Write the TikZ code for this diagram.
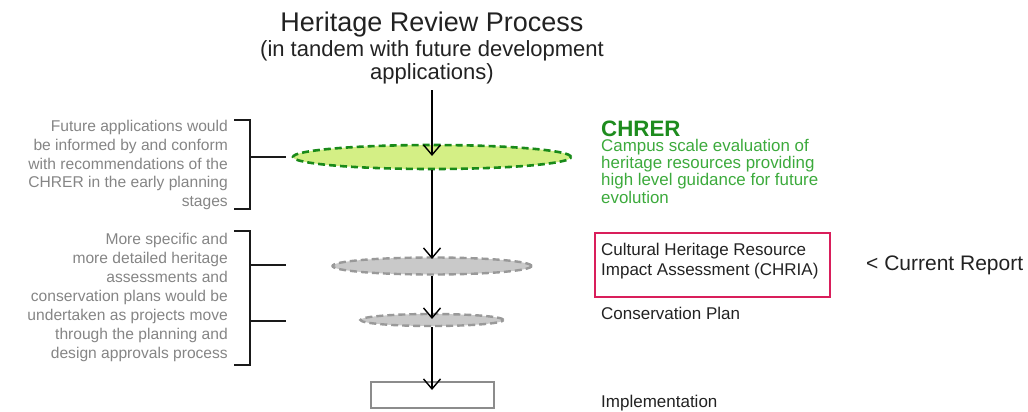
\documentclass[tikz,border=0pt]{standalone}
\usepackage{fontspec}
\setmainfont{Liberation Sans}
\usetikzlibrary{arrows.meta,shapes.geometric}

\definecolor{notegray}{HTML}{858585}
\definecolor{darktext}{HTML}{222222}
\definecolor{chrergreen}{HTML}{1E8C1E}
\definecolor{chrertext}{HTML}{3CAA3C}
\definecolor{chrerfill}{HTML}{D4EF85}
\definecolor{chrerline}{HTML}{198A19}
\definecolor{stagefill}{HTML}{C9C9C9}
\definecolor{stageline}{HTML}{999999}
\definecolor{boxgray}{HTML}{8C8C8C}
\definecolor{reportred}{HTML}{D91E5B}
\definecolor{bracketcol}{HTML}{1A1A1A}

\begin{document}
\begin{tikzpicture}[x=1pt,y=-1pt,
  flow/.style={draw=black, line width=1.4pt,
    -{Straight Barb[length=10pt,width=17pt,line width=1.4pt]}},
  chrerstage/.style={ellipse, draw=chrerline, fill=chrerfill,
    line width=2.6pt, dash pattern=on 7pt off 4pt, inner sep=0pt},
  stage/.style={ellipse, draw=stageline, fill=stagefill,
    line width=2.4pt, dash pattern=on 7pt off 4pt, inner sep=0pt},
  implbox/.style={draw=boxgray, line width=1.8pt, inner sep=0pt},
  bracket/.style={draw=bracketcol, line width=2pt},
  note/.style={text=notegray, inner sep=0pt, align=right,
    font=\fontsize{15.6}{18.7}\selectfont},
  label/.style={text=darktext, inner sep=0pt, align=left,
    font=\fontsize{17}{20}\selectfont}]
\useasboundingbox (0,0) rectangle (1028,412);

% heading (multi-line nodes are placed by the baseline of their last line)
\node[inner sep=0pt, anchor=base, text=darktext,
  font=\fontsize{27}{30}\selectfont] (title) at (432,32) {Heritage Review Process};
\node[inner sep=0pt, anchor=base, text=darktext, align=center,
  font=\fontsize{22}{22.3}\selectfont] (subtitle) at (432,79)
  {(in tandem with future development\\applications)};
\coordinate (start) at (432,90);

% process stages
\node[chrerstage, minimum width=278pt, minimum height=24pt] (e1) at (432,157) {};
\node[stage, minimum width=199pt, minimum height=17pt] (e2) at (432,266) {};
\node[stage, minimum width=143pt, minimum height=12pt] (e3) at (432,320) {};
\node[implbox, minimum width=123pt, minimum height=26pt] (impl) at (432.5,395) {};

% flow arrows
\coordinate (t1) at (432,156);
\coordinate (t2) at (432,259);
\coordinate (t3) at (432,319);
\coordinate (t4) at (432,390);
\draw[flow] (start) -- (t1);
\draw[flow] (e1.south) -- (t2);
\draw[flow] (e2.south) -- (t3);
\draw[flow] (e3.south) -- (t4);

% left brackets
\coordinate (b1a) at (234,120);
\coordinate (b1b) at (250,120);
\coordinate (b1c) at (250,209);
\coordinate (b1d) at (234,209);
\coordinate (b1m) at (250,157);
\coordinate (b1t) at (286,157);
\draw[bracket] (b1a) -- (b1b) -- (b1c) -- (b1d);
\draw[bracket] (b1m) -- (b1t);
\coordinate (b2a) at (234,231);
\coordinate (b2b) at (250,231);
\coordinate (b2c) at (250,365);
\coordinate (b2d) at (234,365);
\coordinate (b2m) at (250,265);
\coordinate (b2t) at (286,265);
\coordinate (b2n) at (250,321);
\coordinate (b2u) at (286,321);
\draw[bracket] (b2a) -- (b2b) -- (b2c) -- (b2d);
\draw[bracket] (b2m) -- (b2t);
\draw[bracket] (b2n) -- (b2u);

% left notes
\node[note, anchor=base east] (note1) at (228,206.5)
  {Future applications would\\be informed by and conform\\with recommendations of the\\CHRER in the early planning\\stages};
\node[note, anchor=base east, font=\fontsize{15.6}{19}\selectfont] (note2) at (228,358.5)
  {More specific and\\more detailed heritage\\assessments and\\conservation plans would be\\undertaken as projects move\\through the planning and\\design approvals process};

% right labels
\node[inner sep=0pt, anchor=base west, text=chrergreen,
  font=\fontsize{22.3}{24}\selectfont\bfseries] (chrer) at (601,136) {CHRER};
\node[inner sep=0pt, anchor=base west, text=chrertext, align=left,
  font=\fontsize{16.9}{17.1}\selectfont] (chrerdesc) at (601,203)
  {Campus scale evaluation of\\heritage resources providing\\high level guidance for future\\evolution};
\node[draw=reportred, line width=2.4pt, minimum width=235pt, minimum height=64pt,
  inner sep=0pt] (current) at (712.5,265) {};
\node[label, anchor=base west] (chria) at (601,275.5)
  {Cultural Heritage Resource\\Impact Assessment (CHRIA)};
\node[inner sep=0pt, anchor=base west, text=darktext,
  font=\fontsize{21}{24}\selectfont] (report) at (866,270) {< Current Report};
\node[label, anchor=base west] (consplan) at (601,319) {Conservation Plan};
\node[label, anchor=base west] (implabel) at (601,407.5) {Implementation};
\end{tikzpicture}
\end{document}
